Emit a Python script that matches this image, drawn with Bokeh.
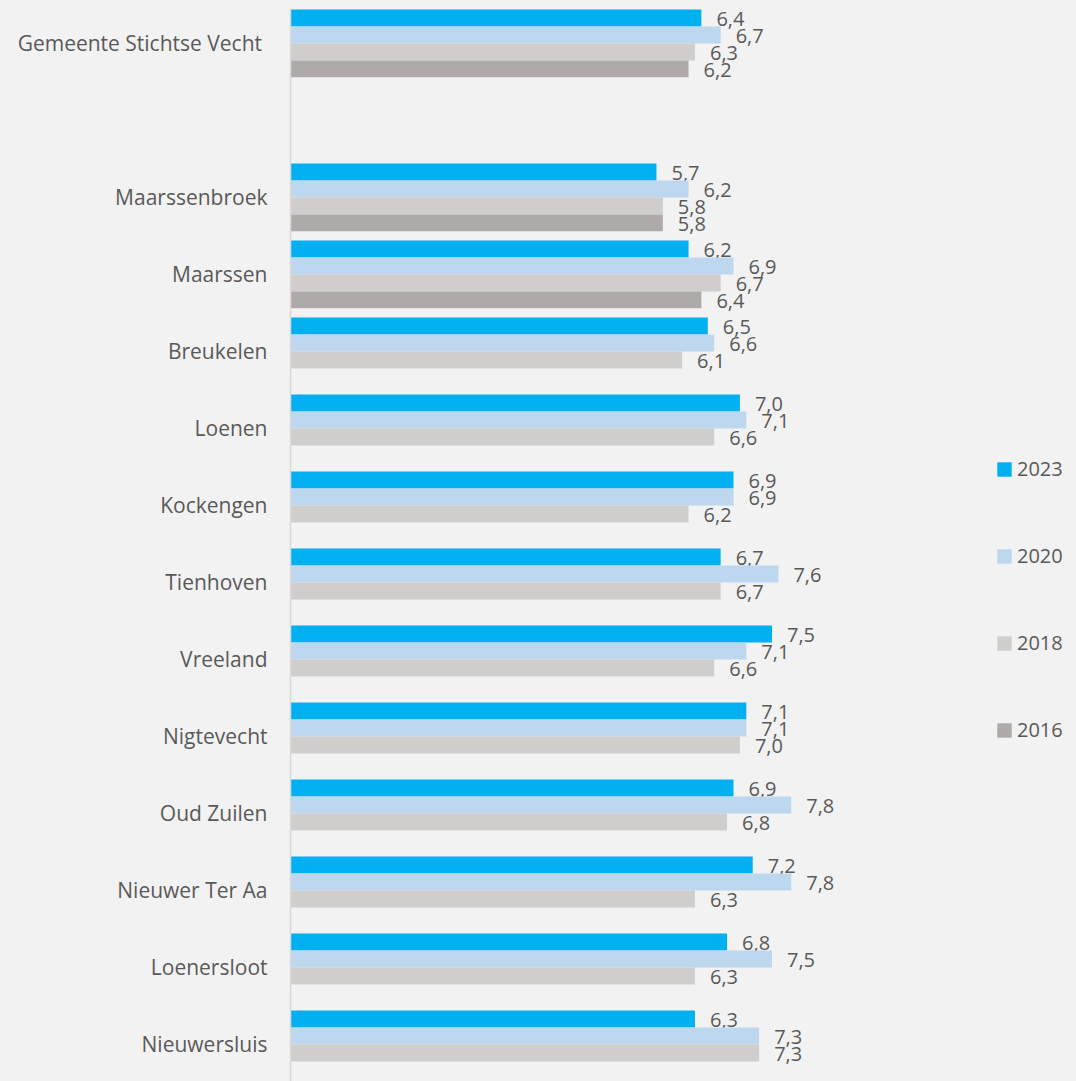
from bokeh.plotting import figure
from bokeh.models import ColumnDataSource, Range1d, FixedTicker, Legend, LegendItem
from bokeh.embed import file_html
from bokeh.resources import INLINE

categories = ["Gemeente Stichtse Vecht ", "", "Maarssenbroek", "Maarssen", "Breukelen",
              "Loenen", "Kockengen", "Tienhoven", "Vreeland", "Nigtevecht",
              "Oud Zuilen", "Nieuwer Ter Aa", "Loenersloot", "Nieuwersluis"]
years = ["2023", "2020", "2018", "2016"]
v2023 = [6.4, None, 5.7, 6.2, 6.5, 7.0, 6.9, 6.7, 7.5, 7.1, 6.9, 7.2, 6.8, 6.3]
v2020 = [6.7, None, 6.2, 6.9, 6.6, 7.1, 6.9, 7.6, 7.1, 7.1, 7.8, 7.8, 7.5, 7.3]
v2018 = [6.3, None, 5.8, 6.7, 6.1, 6.6, 6.2, 6.7, 6.6, 7.0, 6.8, 6.3, 6.3, 7.3]
v2016 = [6.2, None, 5.8, 6.4, None, None, None, None, None, None, None, None, None, None]
colors = ["#00b0f0", "#bdd7ee", "#d0cecd", "#aeaaaa"]

series = [v2023, v2020, v2018, v2016]
FONT = "Open Sans"
TXT = "#595959"
BAR_H = 0.22

p = figure(width=1076, height=1081, output_backend="svg", toolbar_location=None,
           x_range=Range1d(0, 786 / 64.2), y_range=Range1d(13.481, -0.4545),
           min_border_left=290, min_border_right=0, min_border_top=8, min_border_bottom=0,
           background_fill_color="#f2f2f2", border_fill_color="#f2f2f2", outline_line_color=None)
p.xgrid.visible = False
p.ygrid.visible = False
p.xaxis.visible = False

yax = p.yaxis[0]
tick_pos = [i for i, c in enumerate(categories) if c]
yax.ticker = FixedTicker(ticks=tick_pos)
yax.major_label_overrides = {i: categories[i] for i in tick_pos}
yax.major_tick_line_color = None
yax.major_tick_out = 0
yax.major_tick_in = 0
yax.minor_tick_line_color = None
yax.axis_line_color = "#d9d9d9"
yax.axis_line_width = 1.5
yax.major_label_standoff = 23
yax.major_label_text_font = FONT
yax.major_label_text_font_size = "21px"
yax.major_label_text_color = TXT

items = []
for k, (yr, vals, col) in enumerate(zip(years, series, colors)):
    ys, xs, labels = [], [], []
    for i, v in enumerate(vals):
        if v is None:
            continue
        ys.append(i + (k - 1.5) * BAR_H)
        xs.append(v)
        labels.append(f"{v:.1f}".replace(".", ","))
    src = ColumnDataSource(dict(y=ys, right=xs, label=labels))
    r = p.hbar(y="y", right="right", left=0, height=BAR_H, source=src,
               fill_color=col, line_color=None)
    p.text(x="right", y="y", text="label", source=src, x_offset=15, y_offset=1,
           text_baseline="middle", text_align="left", text_font={"value": FONT},
           text_font_size="20px", text_color=TXT)
    items.append(LegendItem(label=yr, renderers=[r]))

legend = Legend(items=items, location=(705, 338), orientation="vertical",
                glyph_width=18, glyph_height=18, label_standoff=4, spacing=60,
                padding=0, margin=0, border_line_color=None, background_fill_alpha=0,
                label_text_font=FONT, label_text_font_size="20px", label_text_color=TXT)
p.add_layout(legend, "center")

html = file_html(p, INLINE)
html = html.replace("<head>", "<head><style>body{background:#f2f2f2;}</style>", 1)
open("out.html", "w").write(html)
